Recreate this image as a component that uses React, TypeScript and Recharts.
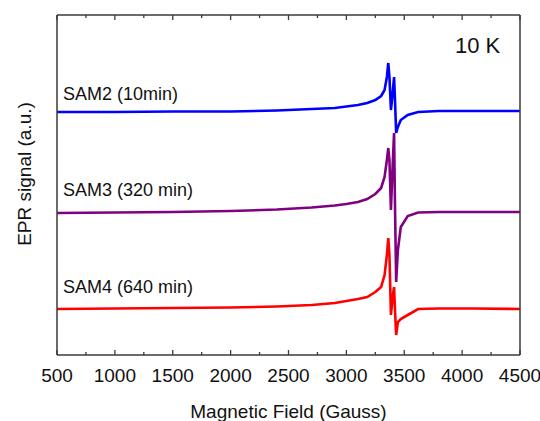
import { LineChart, Line, XAxis, YAxis } from "recharts";

// magnetic field (Gauss), denser around the resonance near 3.4 kG
const fields = [
  500, 1000, 1500, 2000, 2400, 2700, 2900, 3000, 3100, 3180, 3250, 3300, 3330,
  3350, 3362, 3372, 3385, 3400, 3412, 3420, 3430, 3445, 3470, 3530, 3620, 3800,
  4100, 4500,
];

// EPR signal (a.u.), traces already vertically offset as in the figure
const sam2 = [
  243, 243, 243.5, 243.5, 244.5, 246, 247, 248.5, 250, 252, 255, 259, 265,
  278, 292, 278, 245, 262, 278, 255, 222, 228, 235, 240, 243, 244, 244, 244,
];
const sam3 = [
  142, 142.5, 143, 144, 145.5, 147.5, 149.5, 151, 153, 156, 161, 167, 178,
  195, 207, 195, 145, 190, 222, 150, 73, 105, 128, 139, 142.5, 143, 143, 143,
];
const sam4 = [
  46, 46.5, 47, 47.5, 48.5, 50, 52, 54, 56, 58, 63, 68, 80,
  100, 117, 100, 40, 58, 68, 45, 20, 33, 36, 40, 46, 46.5, 46.5, 46,
];

const xTicks = [
  500, 750, 1000, 1250, 1500, 1750, 2000, 2250, 2500, 2750, 3000, 3250, 3500,
  3750, 4000, 4250, 4500,
];

const data = fields.map((field, i) => ({
  field,
  sam2: sam2[i],
  sam3: sam3[i],
  sam4: sam4[i],
}));

const AXIS = "#3a3a3a";
const FONT = "'Liberation Sans', Arial, sans-serif";

const BottomTick = (props: any) => {
  const { x, y, payload } = props;
  const major = payload.value % 500 === 0;
  return (
    <g>
      <line x1={x} x2={x} y1={y} y2={y - (major ? 5 : 3)} stroke={AXIS} strokeWidth={1.3} />
      {major && (
        <text x={x} y={y + 27} textAnchor="middle" fontSize={19} fontFamily={FONT} fill="#111">
          {payload.value}
        </text>
      )}
    </g>
  );
};

const TopTick = (props: any) => {
  const { x, y, payload } = props;
  const major = payload.value % 500 === 0;
  return <line x1={x} x2={x} y1={y} y2={y + (major ? 5 : 3)} stroke={AXIS} strokeWidth={1.3} />;
};

const YTitle = (props: any) => {
  const vb = props.viewBox;
  const cx = vb.x + 24;
  const cy = vb.y + vb.height / 2 - 11;
  return (
    <text
      x={cx}
      y={cy}
      transform={`rotate(-90, ${cx}, ${cy})`}
      textAnchor="middle"
      dominantBaseline="central"
      fontSize={19}
      fontFamily={FONT}
      fill="#111"
    >
      EPR signal (a.u.)
    </text>
  );
};

export default function App() {
  return (
    <div style={{ position: "absolute", left: 0, top: 0, background: "#fff" }}>
      <LineChart
        width={540}
        height={421}
        data={data}
        margin={{ top: 14, right: 19, left: 0, bottom: 0 }}
      >
        <XAxis
          dataKey="field"
          type="number"
          domain={[500, 4500]}
          ticks={xTicks}
          interval={0}
          height={66}
          tickSize={0}
          tickMargin={0}
          tickLine={false}
          tick={<BottomTick />}
          axisLine={{ stroke: AXIS, strokeWidth: 1.5 }}
          label={{
            value: "Magnetic Field (Gauss)",
            position: "insideBottom",
            offset: 3,
            fontSize: 19,
            fontFamily: FONT,
            fill: "#111",
          }}
        />
        <XAxis
          xAxisId="top"
          dataKey="field"
          type="number"
          orientation="top"
          domain={[500, 4500]}
          ticks={xTicks}
          interval={0}
          height={1}
          tickSize={0}
          tickMargin={0}
          tickLine={false}
          tick={<TopTick />}
          axisLine={{ stroke: AXIS, strokeWidth: 1.5 }}
        />
        <YAxis
          domain={[0, 340]}
          width={57}
          tick={false}
          tickLine={false}
          axisLine={{ stroke: AXIS, strokeWidth: 1.5 }}
          label={<YTitle />}
        />
        <YAxis
          yAxisId="right"
          orientation="right"
          domain={[0, 340]}
          width={1}
          tick={false}
          tickLine={false}
          axisLine={{ stroke: AXIS, strokeWidth: 1.5 }}
        />
        <Line dataKey="sam2" stroke="#0000ff" strokeWidth={2.6} dot={false} isAnimationActive={false} />
        <Line dataKey="sam3" stroke="#800080" strokeWidth={2.6} dot={false} isAnimationActive={false} />
        <Line dataKey="sam4" stroke="#ff0000" strokeWidth={2.6} dot={false} isAnimationActive={false} />
        <text x={63} y={100} fontSize={18} fontFamily={FONT} fill="#111">SAM2 (10min)</text>
        <text x={63} y={196} fontSize={18} fontFamily={FONT} fill="#111">SAM3 (320 min)</text>
        <text x={63} y={293} fontSize={18} fontFamily={FONT} fill="#111">SAM4 (640 min)</text>
        <text x={455} y={53} fontSize={22} fontFamily={FONT} fill="#111">10 K</text>
      </LineChart>
    </div>
  );
}
